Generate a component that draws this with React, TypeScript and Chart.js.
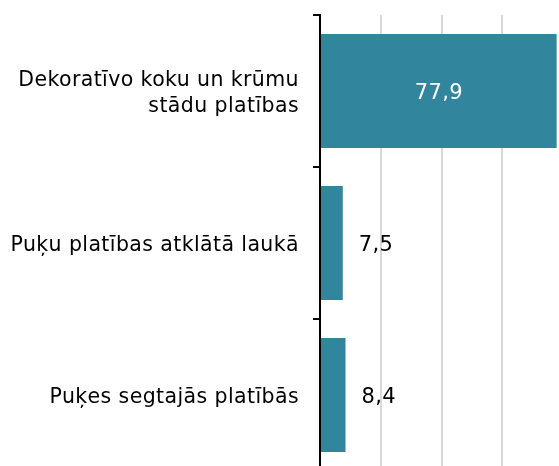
import React, { useEffect, useRef } from "react";
import { Chart, registerables } from "chart.js";

Chart.register(...registerables);

const categories: (string | string[])[] = [
  ["Dekoratīvo koku un krūmu", "stādu platības"],
  "Puķu platības atklātā laukā",
  "Puķes segtajās platībās",
];
const values: number[] = [77.9, 7.5, 8.4];
const valueLabels: string[] = ["77,9", "7,5", "8,4"];
const xMin = 0;
const xMax = 80;
const xStep = 20;

const FONT = "'DejaVu Sans', Verdana, sans-serif";
const BAR_COLOR = "#31859c";
const SPACING = "0.4px";

const spacingPlugin = {
  id: "spacing",
  beforeDraw(chart: any) {
    (chart.ctx as any).letterSpacing = SPACING;
  },
  afterDraw(chart: any) {
    (chart.ctx as any).letterSpacing = "0px";
  },
};

const valueLabelPlugin = {
  id: "valueLabels",
  afterDatasetsDraw(chart: any) {
    const meta = chart.getDatasetMeta(0);
    const ctx = chart.ctx;
    ctx.save();
    ctx.font = `21px ${FONT}`;
    (ctx as any).letterSpacing = SPACING;
    ctx.textBaseline = "alphabetic";
    meta.data.forEach((bar: any, i: number) => {
      const v = values[i];
      const label = valueLabels[i];
      const y = bar.y + 8;
      if (v > xMax * 0.25) {
        ctx.fillStyle = "#ffffff";
        ctx.textAlign = "center";
        ctx.fillText(label, (bar.base + bar.x) / 2, y);
      } else {
        ctx.fillStyle = "#000000";
        ctx.textAlign = "left";
        ctx.fillText(label, bar.x + 16, y);
      }
    });
    ctx.restore();
  },
};

export default function App() {
  const ref = useRef<HTMLCanvasElement | null>(null);
  useEffect(() => {
    if (!ref.current) return;
    const chart = new Chart(ref.current, {
      type: "bar",
      data: {
        labels: categories,
        datasets: [
          {
            data: values,
            backgroundColor: BAR_COLOR,
            borderWidth: 0,
            barPercentage: 0.75,
            categoryPercentage: 1,
          },
        ],
      },
      options: {
        indexAxis: "y",
        animation: false,
        responsive: false,
        maintainAspectRatio: false,
        layout: { padding: { top: 15, right: 0, bottom: 0, left: 0 } },
        plugins: {
          legend: { display: false },
          tooltip: { enabled: false },
        },
        scales: {
          x: {
            min: xMin,
            max: xMax,
            ticks: { display: false, stepSize: xStep },
            grid: { color: "#d9d9d9", lineWidth: 2, drawTicks: false },
            border: { display: false },
            afterFit: (s: any) => {
              s.height = 0;
              s.paddingLeft = 0;
              s.paddingRight = 0;
              s.paddingTop = 0;
              s.paddingBottom = 0;
            },
          },
          y: {
            ticks: {
              color: "#000000",
              font: { family: FONT, size: 20.5, lineHeight: 1.28 },
              padding: 14,
              labelOffset: 3,
            },
            grid: {
              display: true,
              drawOnChartArea: false,
              drawTicks: true,
              tickLength: 7,
              color: "#000000",
              lineWidth: 2,
              offset: true,
            },
            border: { display: true, color: "#000000", width: 2 },
            afterFit: (s: any) => {
              s.width = 320;
              s.paddingTop = 0;
              s.paddingBottom = 0;
              s.paddingLeft = 0;
              s.paddingRight = 0;
            },
          },
        },
      },
      plugins: [spacingPlugin, valueLabelPlugin],
    });
    return () => chart.destroy();
  }, []);
  return (
    <div
      style={{
        position: "fixed",
        left: 0,
        top: 0,
        width: 559,
        height: 466,
        overflow: "hidden",
        background: "#ffffff",
      }}
    >
      <canvas ref={ref} width={563} height={471} style={{ display: "block" }} />
    </div>
  );
}
